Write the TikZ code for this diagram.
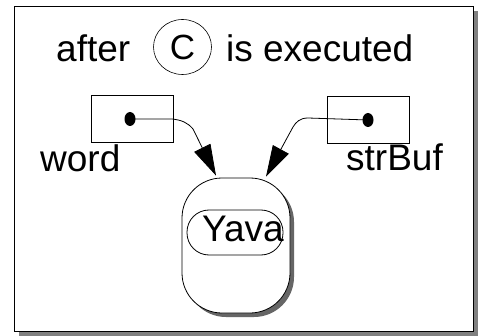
\documentclass[tikz,border=0pt]{standalone}
\usepackage{fontspec}
\setmainfont{Liberation Sans}
\usetikzlibrary{arrows.meta,shadows,shapes.geometric}
\begin{document}
\begin{tikzpicture}[x=1pt,y=-1pt,
  label text/.style={inner sep=0pt,anchor=base west,font=\fontsize{37}{37}\selectfont},
  varbox/.style={draw,line width=0.8pt,minimum width=82pt,minimum height=47pt,inner sep=0pt},
  refdot/.style={fill,ellipse,inner sep=0pt,minimum width=11pt,minimum height=14pt},
  ptr/.style={line width=0.8pt,-{Triangle[length=31pt,width=18pt]}},
  heap/.style={draw,line width=0.8pt,fill=white,rounded corners=40pt,
    minimum width=108pt,minimum height=135pt,
    drop shadow={shadow xshift=4pt,shadow yshift=-4pt,fill=gray!80!black,opacity=1}},
]
\useasboundingbox (0,0) rectangle (478,336);
% outer frame with its shadow
\node[draw,line width=0.8pt,fill=white,minimum width=459pt,minimum height=325pt,inner sep=0pt,
  drop shadow={shadow xshift=5pt,shadow yshift=-5pt,fill=gray,opacity=1}] (frame) at (243.5,168.5) {};

% title line
\node[label text] (after) at (56,62) {after};
\node[draw,ellipse,line width=0.6pt,minimum width=58pt,minimum height=55pt,inner sep=0pt,
  font=\fontsize{35}{35}\selectfont] (cstep) at (182.5,47) {C};
\node[label text] (exec) at (226,62) {is executed};

% reference variables
\node[varbox] (wbox) at (132,118.5) {};
\node[varbox] (sbox) at (368,120) {};
\node[refdot] (wdot) at (130,119) {};
\node[refdot] (sdot) at (368,120) {};
\node[label text] (wlabel) at (40,172) {word};
\node[label text] (slabel) at (346,171) {strBuf};

% shared string object
\node[heap] (obj) at (236,245.5) {};
\node[draw,line width=0.8pt,rounded corners=22pt,minimum width=96pt,minimum height=45pt,inner sep=0pt]
  (str) at (235,232.5) {};
\node[inner sep=0pt,anchor=base west,font=\fontsize{37}{37}\selectfont] (val) at (202,241) {Yava};

% pointers
\draw[ptr] (wdot.center) -- (172,119) .. controls (182,120) and (188,123) .. (193,129)
  -- ([xshift=-20pt,yshift=2pt]obj.north);
\draw[ptr] (sdot.center) -- (308,118) .. controls (300,118) and (296,122) .. (293,127)
  -- ([xshift=30pt,yshift=1pt]obj.north);
\end{tikzpicture}
\end{document}
